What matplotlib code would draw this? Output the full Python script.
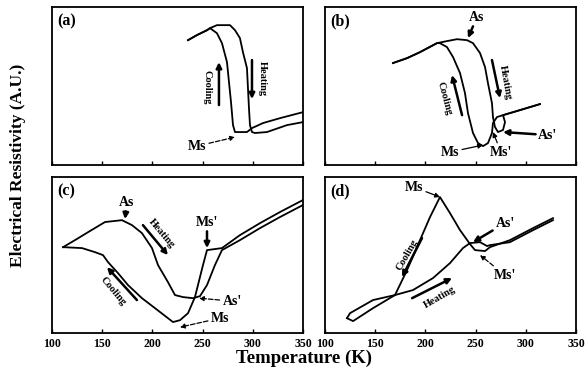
import numpy as np
import matplotlib
matplotlib.use('Agg')
import matplotlib.pyplot as plt

plt.rcParams['font.family'] = ['Liberation Serif', 'DejaVu Serif']

# temperature axis (K)
t_ticks = [100, 150, 200, 250, 300, 350]

# (a) resistivity loop
a_heat_T = [235.5, 244.4, 254.4, 257.4, 264.3, 277.3, 282.3, 287.2, 290.2, 294.2, 295.2,
            296.2, 297.2, 299.2, 302.2, 314.1, 334.1, 350]
a_heat_R = [79.1, 82.3, 85.4, 86.7, 88.6, 88.6, 85.4, 80.4, 71.5, 61.4, 48.7,
            36.1, 25.3, 20.9, 20.3, 20.9, 25.3, 27.2]
a_cool_T = [350, 327.1, 310.2, 299.2, 294.2, 282.3, 280.3, 278.3, 276.3, 274.3, 269.3,
            264.3, 257.4, 254.4, 244.4, 235.5]
a_cool_R = [33.5, 29.7, 26.6, 23.4, 20.9, 20.9, 25.3, 39.9, 52.5, 65.2, 77.2,
            83.5, 86.7, 85.4, 82.3, 79.1]

# (b)
b_heat_T = [167.7, 181.7, 194.6, 211.5, 221.5, 231.5, 241.4, 247.4, 254.4, 259.4, 262.3,
            266.3, 267.3, 269.3, 272.3, 277.3, 279.3, 277.3, 294.2, 314.1]
b_heat_R = [64.6, 67.7, 71.5, 77.2, 78.5, 79.7, 79.1, 77.2, 70.9, 62.0, 51.9,
            39.2, 30.4, 24.1, 20.9, 22.2, 27.2, 31.6, 34.8, 38.6]
b_cool_T = [314.1, 294.2, 277.3, 271.3, 267.3, 266.3, 262.3, 257.4, 252.4, 247.4, 242.4,
            239.4, 234.5, 227.5, 221.5, 214.5, 211.5, 194.6, 181.7, 167.7]
b_cool_R = [38.6, 34.8, 31.6, 30.4, 26.6, 20.3, 13.9, 12.0, 13.9, 20.3, 32.9,
            45.6, 58.2, 68.4, 74.7, 77.2, 77.2, 71.5, 67.7, 64.6]

# (c)
c_heat_T = [111, 122.9, 135.9, 152.8, 169.7, 179.7, 189.6, 199.6, 205.6, 215.5, 222.5,
            230.5, 240.4, 247.4, 254.4, 262.3, 269.3, 287.2, 307.2, 327.1, 350]
c_heat_R = [55.1, 59.6, 64.7, 71.2, 72.4, 69.2, 64.1, 54.5, 43.6, 32.7, 24.4,
            23.1, 22.4, 23.7, 30.8, 43.6, 53.2, 59.6, 67.3, 74.4, 82.1]
c_cool_T = [350, 327.1, 307.2, 287.2, 269.3, 254.4, 250.4, 245.4, 242.4, 235.5, 227.5,
            220.5, 215.5, 202.6, 189.6, 175.7, 165.7, 155.8, 150.8, 142.8, 129.9, 111]
c_cool_R = [85.3, 77.6, 70.5, 62.8, 54.5, 53.2, 43.6, 30.8, 23.1, 12.8, 8.3,
            7.1, 9.6, 16.0, 22.4, 30.8, 38.5, 45.5, 50.0, 51.9, 54.5, 55.1]

# (d)
d_heat_T = [121.9, 127.9, 147.8, 169.7, 187.6, 207.6, 224.5, 237.4, 244.4, 254.4, 261.4,
            264.3, 284.2, 307.2, 327.1]
d_heat_R = [9.6, 7.7, 16.0, 24.4, 27.6, 35.3, 44.9, 54.5, 57.7, 58.3, 55.8,
            56.4, 58.3, 66.0, 72.4]
d_cool_T = [327.1, 307.2, 284.2, 264.3, 259.4, 249.4, 244.4, 234.5, 224.5, 214.5, 204.6,
            194.6, 181.7, 169.7, 147.8, 124.9, 121.9]
d_cool_R = [73.7, 67.3, 59.6, 55.1, 52.6, 53.2, 57.1, 66.0, 76.9, 87.2, 74.4,
            59.6, 40.4, 24.4, 21.2, 12.8, 9.6]

fig = plt.figure(figsize=(5.85, 3.76), dpi=100)

# axes boxes (left, bottom, width, height) in figure fraction
boxes = {'a': [0.0889, 0.561, 0.429, 0.420],
         'b': [0.5556, 0.561, 0.429, 0.420],
         'c': [0.0889, 0.114, 0.429, 0.415],
         'd': [0.5556, 0.114, 0.429, 0.415]}
curves = {'a': (a_heat_T, a_heat_R, a_cool_T, a_cool_R),
          'b': (b_heat_T, b_heat_R, b_cool_T, b_cool_R),
          'c': (c_heat_T, c_heat_R, c_cool_T, c_cool_R),
          'd': (d_heat_T, d_heat_R, d_cool_T, d_cool_R)}

axs = {}
for key in ['a', 'b', 'c', 'd']:
    ax = fig.add_axes(boxes[key])
    hT, hR, cT, cR = curves[key]
    ax.plot(hT, hR, color='black', lw=1.3)
    ax.plot(cT, cR, color='black', lw=1.3)
    ax.set_xlim(100, 350)
    ax.set_ylim(0, 100)
    ax.set_xticks(t_ticks)
    ax.set_yticks([])
    ax.tick_params(axis='x', direction='in', length=3, width=1, labelsize=8.5)
    for lab in ax.get_xticklabels():
        lab.set_fontweight('bold')
    if key in ['a', 'b']:
        ax.tick_params(labelbottom=False)
    for sp in ax.spines.values():
        sp.set_linewidth(1.3)
    ax.text(0.02, 0.91, '(' + key + ')', transform=ax.transAxes, fontsize=11.5,
            fontweight='bold', ha='left', va='center')
    axs[key] = ax

arr = dict(arrowstyle='-|>', color='black', lw=0.9, shrinkA=0, shrinkB=0, mutation_scale=7)
big = dict(arrowstyle='-|>', color='black', lw=1.8, shrinkA=0, shrinkB=0, mutation_scale=8)
lab = dict(fontsize=10, fontweight='bold')
small = dict(fontsize=7.5, fontweight='bold', ha='center', va='center')

# (a)
ax = axs['a']
ax.annotate('Ms', xy=(282.3, 17.7), xytext=(244.4, 12.0), ha='center', va='center',
            arrowprops=dict(arr, linestyle='--'), **lab)
ax.annotate('', xy=(266.3, 65.2), xytext=(266.3, 38.0), arrowprops=big)
ax.text(254.4, 49.4, 'Cooling', rotation=-90, **small)
ax.annotate('', xy=(299.2, 41.8), xytext=(299.2, 66.5), arrowprops=big)
ax.text(309.2, 55.0, 'Heating', rotation=-90, **small)

# (b)
ax = axs['b']
ax.annotate('As', xy=(242.4, 80.4), xytext=(251.4, 93.7), ha='center', va='center',
            arrowprops=big, **lab)
ax.annotate('', xy=(274.3, 42.4), xytext=(266.3, 66.5), arrowprops=big)
ax.text(279.3, 52.5, 'Heating', rotation=-80, **small)
ax.annotate('', xy=(226.5, 57.0), xytext=(236.5, 31.6), arrowprops=big)
ax.text(218.5, 42.4, 'Cooling', rotation=-75, **small)
ax.annotate('Ms', xy=(257.4, 12.7), xytext=(224.5, 8.2), ha='center', va='center',
            arrowprops=arr, **lab)
ax.annotate("Ms'", xy=(267.3, 20.9), xytext=(275.3, 8.2), ha='center', va='center',
            arrowprops=arr, **lab)
ax.annotate("As'", xy=(277.3, 20.9), xytext=(322.1, 19.0), ha='center', va='center',
            arrowprops=big, **lab)

# (c)
ax = axs['c']
ax.annotate('As', xy=(172.7, 73.1), xytext=(174.7, 84.0), ha='center', va='center',
            arrowprops=big, **lab)
ax.annotate('', xy=(215.5, 50.0), xytext=(190.6, 69.2), arrowprops=big)
ax.text(209.6, 64.0, 'Heating', rotation=-50, **small)
ax.annotate('', xy=(154.8, 42.3), xytext=(184.6, 21.2), arrowprops=big)
ax.text(160.8, 27.0, 'Cooling', rotation=-50, **small)
ax.annotate("Ms'", xy=(254.4, 54.5), xytext=(254.4, 71.2), ha='center', va='center',
            arrowprops=big, **lab)
ax.annotate("As'", xy=(246.4, 22.4), xytext=(279.3, 20.5), ha='center', va='center',
            arrowprops=dict(arr, linestyle='--'), **lab)
ax.annotate('Ms', xy=(227.5, 3.8), xytext=(267.3, 9.6), ha='center', va='center',
            arrowprops=dict(arr, linestyle='--'), **lab)

# (d)
ax = axs['d']
ax.annotate('Ms', xy=(214.5, 87.2), xytext=(188.6, 93.6), ha='center', va='center',
            arrowprops=arr, **lab)
ax.annotate("As'", xy=(247.4, 58.3), xytext=(279.3, 70.5), ha='center', va='center',
            arrowprops=big, **lab)
ax.annotate("Ms'", xy=(254.4, 50.0), xytext=(279.3, 37.2), ha='center', va='center',
            arrowprops=dict(arr, linestyle='--'), **lab)
ax.annotate('', xy=(176.7, 35.9), xytext=(196.6, 60.9), arrowprops=big)
ax.text(181.7, 50.0, 'Cooling', rotation=60, **small)
ax.annotate('', xy=(226.5, 35.3), xytext=(186.7, 22.4), arrowprops=big)
ax.text(214.5, 23.1, 'Heating', rotation=30, **small)

fig.text(0.03, 0.56, 'Electrical Resistivity (A.U.)', rotation=90, ha='center', va='center',
         fontsize=12.5, fontweight='bold')
fig.text(0.52, 0.048, 'Temperature (K)', ha='center', va='center',
         fontsize=13.5, fontweight='bold')

fig.savefig('out.png', dpi=100)
